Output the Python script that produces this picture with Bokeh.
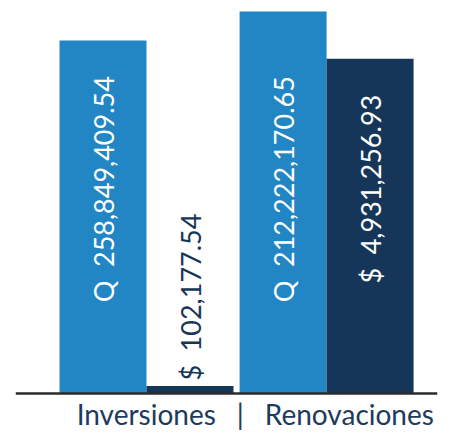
from bokeh.plotting import figure
from bokeh.models import ColumnDataSource, Range1d, Span
from bokeh.core.properties import value
from bokeh.embed import file_html
from bokeh.resources import INLINE

# ---- data ----
groups = ["Inversiones", "Renovaciones"]
series = ["Q", "$"]
amounts_q = [258849409.54, 212222170.65]
amounts_usd = [102177.54, 4931256.93]
# bar heights as drawn (relative scale, 0-100)
heights_q = [89.8, 97.2]
heights_usd = [1.9, 85.2]
SP = "\u2002"
axis_text = "Inversiones\u2003|\u2003Renovaciones"

colors = {"Q": "#2186c3", "$": "#163659"}
FONT = "Lato"

group_gap = 0.07
xs, hs, labs, cols = [], [], [], []
for g in range(len(groups)):
    for s, name in enumerate(series):
        h = heights_q[g] if name == "Q" else heights_usd[g]
        amt = amounts_q[g] if name == "Q" else amounts_usd[g]
        xs.append(g * (len(series) + group_gap) + s)
        hs.append(h)
        labs.append(f"{name}{SP}{amt:,.2f}")
        cols.append(colors[name])

src = ColumnDataSource(dict(x=xs, top=hs, color=cols, label=labs))

p = figure(width=445, height=432, output_backend="svg", toolbar_location=None,
           x_range=Range1d(-1.006, 3.845), y_range=Range1d(-9.92, 100),
           min_border_left=15, min_border_right=8, min_border_top=0, min_border_bottom=0)
p.outline_line_color = None
p.grid.visible = False
p.xaxis.visible = False
p.yaxis.visible = False

p.vbar(x="x", top="top", width=1.0, bottom=0, color="color", line_color=None, source=src)

inside_thr = 40
ins = [i for i in range(len(xs)) if hs[i] > inside_thr]
outs = [i for i in range(len(xs)) if hs[i] <= inside_thr]
src_in = ColumnDataSource(dict(x=[xs[i] for i in ins], y=[52.0] * len(ins),
                               label=[labs[i] for i in ins]))
src_out = ColumnDataSource(dict(x=[xs[i] for i in outs], y=[hs[i] + 1.4 for i in outs],
                                label=[labs[i] for i in outs]))
p.text(x="x", y="y", text="label", source=src_in, angle=1.5708,
       text_align="center", text_baseline="middle", text_color="white",
       text_font=value(FONT), text_font_size="27px")
p.text(x="x", y="y", text="label", source=src_out, angle=1.5708,
       text_align="left", text_baseline="middle", text_color="#163659",
       text_font=value(FONT), text_font_size="27px")

p.add_layout(Span(location=0, dimension="width", line_color="#2b2b2b", line_width=2.5))

p.text(x=[1.75], y=[-5.2], text=[axis_text], text_align="center",
       text_baseline="alphabetic", text_font=value(FONT),
       text_font_size="28px", text_color="#1d3b5c")

open("out.html", "w").write(file_html(p, INLINE))
